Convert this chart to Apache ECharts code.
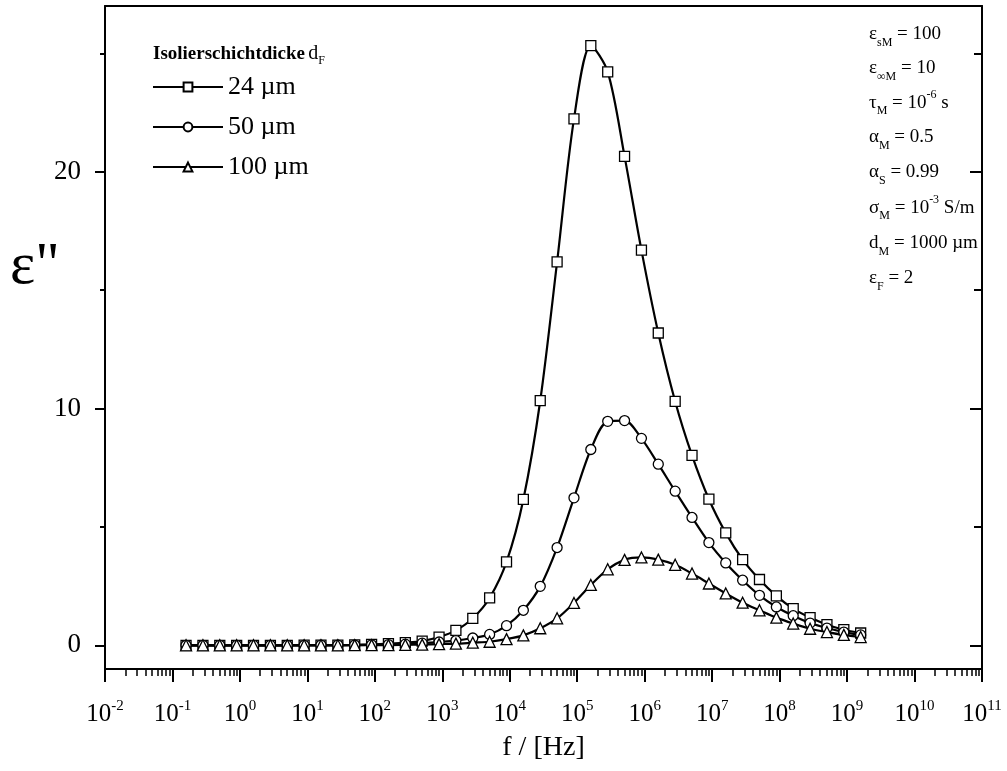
<!DOCTYPE html>
<html>
<head>
<meta charset="utf-8">
<script src="https://cdn.jsdelivr.net/npm/echarts@6/dist/echarts.min.js"></script>
<style>
html,body{margin:0;padding:0;background:#fff;}
#c{width:1007px;height:771px;}
</style>
</head>
<body>
<div id="c"></div>
<script>
// Frequencies (Hz) of the plotted points
const freqs = [0.159, 0.283, 0.503, 0.895, 1.59, 2.83, 5.03, 8.95, 15.9, 28.3, 50.3, 89.5,
  159, 283, 503, 895, 1590, 2830, 5030, 8950, 1.59e4, 2.83e4, 5.03e4, 8.95e4,
  1.59e5, 2.83e5, 5.03e5, 8.95e5, 1.59e6, 2.83e6, 5.03e6, 8.95e6,
  1.59e7, 2.83e7, 5.03e7, 8.95e7, 1.59e8, 2.83e8, 5.03e8, 8.95e8, 1.59e9];

// epsilon'' values
const eps24 = [0.00, 0.00, 0.00, 0.00, 0.00, 0.00, 0.00, 0.01, 0.01, 0.01, 0.02, 0.04,
  0.07, 0.11, 0.18, 0.35, 0.63, 1.14, 2.00, 3.52, 6.16, 10.33, 16.19, 22.23,
  25.33, 24.22, 20.65, 16.69, 13.19, 10.30, 8.02, 6.17,
  4.75, 3.62, 2.78, 2.09, 1.55, 1.17, 0.87, 0.66, 0.52];
const eps50 = [0.00, 0.00, 0.00, 0.00, 0.00, 0.00, 0.00, 0.00, 0.01, 0.01, 0.01, 0.02,
  0.03, 0.05, 0.09, 0.14, 0.20, 0.31, 0.46, 0.83, 1.48, 2.49, 4.13, 6.23,
  8.27, 9.46, 9.49, 8.74, 7.65, 6.51, 5.40, 4.34,
  3.48, 2.75, 2.11, 1.62, 1.25, 0.94, 0.73, 0.56, 0.44];
const eps100 = [0.00, 0.00, 0.00, 0.00, 0.00, 0.00, 0.00, 0.00, 0.00, 0.00, 0.01, 0.01,
  0.01, 0.02, 0.03, 0.05, 0.07, 0.11, 0.15, 0.26, 0.42, 0.72, 1.14, 1.79,
  2.55, 3.21, 3.61, 3.71, 3.62, 3.40, 3.03, 2.61,
  2.19, 1.80, 1.48, 1.17, 0.92, 0.70, 0.56, 0.44, 0.35];

const seriesNames = ['24 \u00b5m', '50 \u00b5m', '100 \u00b5m'];
const seriesSymbols = ['rect', 'circle', 'triangle'];
const yMajorTicks = [0, 10, 20];
const yMinorTicks = [5, 15, 25];
const xDecadeMin = -2, xDecadeMax = 11;

const FONT = "'Liberation Serif', 'Times New Roman', serif";

// minor tick positions in log10 space (2..9 x each decade)
const xMinor = [];
for (let d = xDecadeMin; d < xDecadeMax; d++) {
  for (let m = 2; m <= 9; m++) xMinor.push(d + Math.log10(m));
}

const chart = echarts.init(document.getElementById('c'), null, {renderer: 'canvas'});

function mkData(arr) { return freqs.map((f, i) => [f, arr[i]]); }
const allData = [eps24, eps50, eps100];
const symSizes = [10, 10, 11];

const series = allData.map((arr, i) => ({
  name: seriesNames[i],
  type: 'line',
  xAxisIndex: 0,
  yAxisIndex: 0,
  data: mkData(arr),
  smooth: 0.3,
  symbol: seriesSymbols[i],
  symbolSize: symSizes[i],
  showAllSymbol: true,
  lineStyle: {color: '#000', width: 2.2},
  itemStyle: {color: '#fff', borderColor: '#000', borderWidth: 1.3},
  emphasis: {disabled: true},
  animation: false
}));

const axisLineStyle = {color: '#000', width: 2};

const option = {
  animation: false,
  grid: {left: 105, right: 25, top: 6, bottom: 102, containLabel: false, outerBoundsMode: 'none'},
  legend: {
    orient: 'vertical',
    left: 147,
    top: 69,
    itemWidth: 70,
    itemHeight: 11,
    itemGap: 14,
    data: seriesNames,
    textStyle: {fontFamily: FONT, fontSize: 26, color: '#000', lineHeight: 26}
  },
  xAxis: [
    {
      type: 'log', logBase: 10, min: 0.01, max: 1e11, interval: 1,
      position: 'bottom',
      name: 'f / [Hz]', nameLocation: 'middle', nameGap: 65,
      nameTextStyle: {fontFamily: FONT, fontSize: 28, color: '#000'},
      axisLine: {show: true, onZero: false, lineStyle: axisLineStyle},
      axisTick: {show: true, inside: false, length: 13, lineStyle: {color: '#000', width: 2}},
      splitLine: {show: false},
      minorTick: {show: false},
      axisLabel: {
        margin: 30,
        formatter: function (v) {
          const e = Math.round(Math.log10(v));
          return '{b|10}{s|' + e + '}';
        },
        rich: {
          b: {fontFamily: FONT, fontSize: 25, color: '#000', lineHeight: 30},
          s: {fontFamily: FONT, fontSize: 15, color: '#000', lineHeight: 8, verticalAlign: 'top'}
        }
      }
    },
    {
      type: 'value', min: xDecadeMin, max: xDecadeMax,
      position: 'bottom',
      axisLine: {show: false, onZero: false},
      axisTick: {show: true, inside: false, length: 7, customValues: xMinor, lineStyle: {color: '#000', width: 1.5}},
      axisLabel: {show: false},
      splitLine: {show: false}
    },
    {
      type: 'value', min: 0, max: 1, position: 'top',
      axisLine: {show: true, onZero: false, lineStyle: axisLineStyle},
      axisTick: {show: false}, axisLabel: {show: false}, splitLine: {show: false}
    }
  ],
  yAxis: [
    {
      type: 'value', min: -1, max: 27, position: 'left',
      axisLine: {show: true, onZero: false, lineStyle: axisLineStyle},
      axisTick: {show: true, inside: false, length: 10, customValues: yMajorTicks, lineStyle: {color: '#000', width: 2}},
      axisLabel: {show: true, customValues: yMajorTicks, margin: 24, fontFamily: FONT, fontSize: 27, color: '#000'},
      splitLine: {show: false}
    },
    {
      type: 'value', min: -1, max: 27, position: 'left',
      axisLine: {show: false, onZero: false},
      axisTick: {show: true, inside: false, length: 5, customValues: yMinorTicks, lineStyle: {color: '#000', width: 2}},
      axisLabel: {show: false}, splitLine: {show: false}
    },
    {
      type: 'value', min: -1, max: 27, position: 'right',
      axisLine: {show: true, onZero: false, lineStyle: axisLineStyle},
      axisTick: {show: true, inside: true, length: 12, customValues: yMajorTicks, lineStyle: {color: '#000', width: 2}},
      axisLabel: {show: false}, splitLine: {show: false}
    },
    {
      type: 'value', min: -1, max: 27, position: 'right',
      axisLine: {show: false, onZero: false},
      axisTick: {show: true, inside: true, length: 8, customValues: yMinorTicks, lineStyle: {color: '#000', width: 2}},
      axisLabel: {show: false}, splitLine: {show: false}
    }
  ],
  graphic: [
    {
      type: 'text', left: 10, top: 237,
      style: {text: 'ε"', font: '60px ' + FONT, fill: '#000'}
    },
    {
      type: 'text', left: 153, top: 44,
      style: {
        text: '{bo|Isolierschichtdicke} {n|d}{sub|F}',
        rich: {
          bo: {fontFamily: FONT, fontSize: 19, fontWeight: 'bold', fill: '#000', lineHeight: 26},
          n: {fontFamily: FONT, fontSize: 20, fill: '#000', lineHeight: 26},
          sub: {fontFamily: FONT, fontSize: 12, fill: '#000', lineHeight: 12, verticalAlign: 'bottom'}
        }
      }
    }
  ],
  series: series
};

// parameter annotations on the right
const annRich = {
  m: {fontFamily: FONT, fontSize: 19, fill: '#000', lineHeight: 28},
  sub: {fontFamily: FONT, fontSize: 12, fill: '#000', lineHeight: 12, verticalAlign: 'bottom'},
  sup: {fontFamily: FONT, fontSize: 12, fill: '#000', lineHeight: 10, verticalAlign: 'top'}
};
const annLines = [
  '{m|ε}{sub|sM}{m| = 100}',
  '{m|ε}{sub|∞M}{m| = 10}',
  '{m|τ}{sub|M}{m| = 10}{sup|-6}{m| s}',
  '{m|α}{sub|M}{m| = 0.5}',
  '{m|α}{sub|S}{m| = 0.99}',
  '{m|σ}{sub|M}{m| = 10}{sup|-3}{m| S/m}',
  '{m|d}{sub|M}{m| = 1000 µm}',
  '{m|ε}{sub|F}{m| = 2}'
];
const annTops = [25, 59, 89, 128, 163, 194, 234, 269];
annLines.forEach((t, i) => {
  option.graphic.push({type: 'text', left: 869, top: annTops[i], style: {text: t, rich: annRich}});
});

chart.setOption(option);
</script>
</body>
</html>
